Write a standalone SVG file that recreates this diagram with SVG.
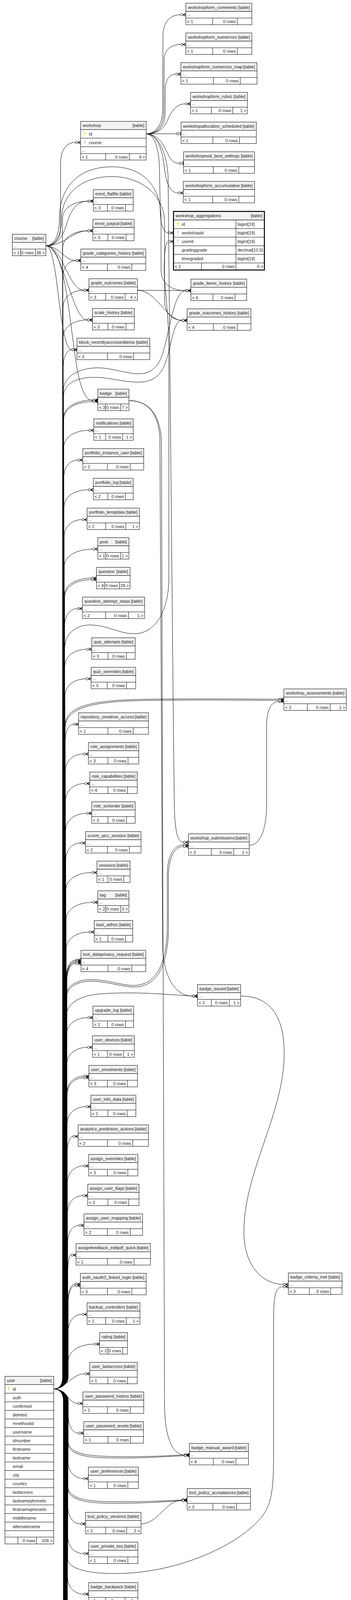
<svg xmlns="http://www.w3.org/2000/svg" width="898" height="6562" viewBox="0 0 898 6562">
<style>
.h{fill:#f2f2f2;stroke:#000;stroke-width:1}
.b{fill:#fff;stroke:#000;stroke-width:1}
.d{fill:none;stroke:#000;stroke-width:1}
text{font-family:"Liberation Sans",Arial,Helvetica,sans-serif;font-size:11px;fill:#222}
.e{text-anchor:end}
.c path{fill:none;stroke:#000;stroke-width:1;marker-end:url(#co)}
.c path.t1{marker-end:url(#to)}
.kp{fill:#e4e000}
.kf{fill:#c4c4c4}
</style>
<defs>
<marker id="co" markerUnits="userSpaceOnUse" markerWidth="16" markerHeight="12" viewBox="-1 -6 16 12" refX="0" refY="0" orient="auto">
<circle cx="3.3" cy="0" r="3" fill="#fff" stroke="#000" stroke-width="1"/>
<path d="M6.3 0L13.3 -4M6.3 0L13.3 0M6.3 0L13.3 4" fill="none" stroke="#000" stroke-width="1.3"/>
</marker>
<marker id="to" markerUnits="userSpaceOnUse" markerWidth="14" markerHeight="12" viewBox="-1 -6 14 12" refX="0" refY="0" orient="auto">
<circle cx="3.3" cy="0" r="3" fill="#fff" stroke="#000" stroke-width="1"/>
<path d="M9.8 -4.5V4.5" fill="none" stroke="#000" stroke-width="1.6"/>
</marker>
<symbol id="key" viewBox="0 0 4 10" width="4" height="10"><ellipse cx="2" cy="2.2" rx="1.9" ry="2.2"/><rect x="1.35" y="3.6" width="1.3" height="6.4"/></symbol>
</defs>
<rect width="898" height="6562" fill="#fff"/>

<g id="connectors" class="c">
<!-- course -->
<path d="M117.4 629.1C138 629.1 155 612 155 585L155 420C155 385 168 364.7 192.9 364.7"/>
<path d="M117.4 629.1C145 629.1 160 608 170 575C180 540 195 514.9 225.5 514.9"/>
<path d="M117.4 629.1C165 629.1 185 590.8 224.4 590.8"/>
<path d="M117.4 629.1C150 629.1 165 666.9 193.5 666.9"/>
<path d="M117.4 629.1C160 629.1 175 743 214.1 743"/>
<path d="M117.4 629.1C160 629.1 185 819.1 223.2 819.1"/>
<path d="M117.4 629.1C150 629.1 150 895.2 183.7 895.2"/>
<path d="M117.4 629.1C165 629.1 175 800 195 930C205 995 220 1025.6 237 1025.6"/>
<path d="M117.4 629.1C140 629.1 152 600 152 560C152 475 205 427 286 427C370 427 412 480 412 560L412 690C412 728 440 744 475.2 744"/>
<path d="M117.4 629.1C140 629.1 157 605 157 565C157 492 212 452 286 452C362 452 421 500 421 570L421 770C421 805 445 820.1 465.5 820.1"/>
<!-- grade_outcomes -->
<path d="M351.7 743L475.2 744"/>
<path d="M351.7 743C400 743 425 820.1 465.5 820.1"/>
<!-- workshop -->
<path d="M374 342.7C396 342.7 415 322 416 285L417 90C418 55 436 37.7 462.1 37.7"/>
<path d="M374 342.7C398 342.7 418 325 419 290L420 150C421 126 440 113.8 462.1 113.8"/>
<path d="M374 342.7C400 342.7 421 328 422 295L423 225C424 203 435 189.9 449.5 189.9"/>
<path d="M374 342.7C402 342.7 420 330 430 305C442 278 455 265.9 474.1 265.9"/>
<path class="t1" d="M374 342.7L452 342.3"/>
<path class="t1" d="M374 342.7C410 342.7 425 385 432 400C440 413 447 418.1 458.3 418.1"/>
<path d="M374 342.7C402 342.7 416 385 420 425C425 475 438 493.8 455.7 493.8"/>
<path d="M374 342.7C396 342.7 407 385 408 430L410 540C411 577 419 596.2 430.6 596.2"/>
<path d="M374 342.7C402 342.7 426 385 430 450L444 1900L446 2060C447 2130 455 2156 468.9 2156"/>
<!-- badge -->
<path d="M329.9 1025.6C372 1025.6 404 1050 409 1120L416 2420C418 2508 452 2549.9 491.9 2549.9"/>
<path d="M329.9 1025.6C376 1025.6 410 1055 413 1130L421 3600C422 3690 446 3724.6 471.2 3724.6"/>
<!-- other right-side -->
<path d="M637.5 2164C665 2164 682 2125 682 2060L682 1860C682 1815 695 1796 712.9 1796"/>
<path d="M615.7 2549.9C690 2549.9 728 2600 727 2700C726 2850 625 3000 624 3150C623 3250 680 3288 724.4 3288"/>
<path d="M360.8 3901.1C405 3901.1 425 3840 465.5 3840"/>
<path d="M344.8 5273.1C385 5273.1 430 5206.2 472.4 5206.2"/>
<path d="M367.1 5376.8C410 5376.8 430 5350.2 474.1 5350.2"/>
<path d="M358 5481C410 5481 430 5453.9 480.4 5453.9"/>
<path d="M336.8 6116.9C400 6116.9 425 6089.8 468.9 6089.8"/>
<!-- user to right-side tables -->
<path d="M137.5 3555.7C152 3555.7 165.5 3545 165.5 3525L165.5 1660C165.5 1622 195 1598 235 1600C280 1602 310 1625 350 1622C400 1618 432 1560 432 1480L432 900C432 800 420 730 420 690C420 645 424 618.2 430.6 618.2"/>
<path d="M137.5 3555.7C152 3555.7 162.2 3545 162.2 3525L162.2 1000C162.2 958 215 936 270 943C330 951 378 978 408 925C432 880 440 744 475.2 744"/>
<path d="M137.5 3555.7C152 3555.7 162.6 3545 162.6 3525L162.6 1015C162.6 975 212 960 270 968C330 976 388 995 416 945C438 905 440 820.1 465.5 820.1"/>
<path d="M137.5 3555.7C152 3555.7 166.3 3545 166.3 3525L166.3 1860C166.3 1808 230 1792 380 1790C550 1788 650 1790 712.9 1790"/>
<path d="M137.5 3555.7C152 3555.7 166.8 3545 166.8 3525L166.8 1864C166.8 1812 232 1795 380 1793C550 1791 650 1793 712.9 1793"/>
<path d="M137.5 3555.7C152 3555.7 170 3545 170 3525L170 2548C170 2522 200 2506 240 2508C290 2511 320 2526 352 2522C400 2516 425 2468 428 2380L428 2240C428 2190 445 2163 468.9 2163"/>
<path d="M137.5 3555.7C152 3555.7 170.5 3545 170.5 3525L170.5 2552C170.5 2526 201 2510 240 2512C290 2515 322 2530 354 2526C402 2520 428 2472 431 2384L431 2244C431 2194 447 2167 468.9 2167"/>
<path d="M137.5 3555.7C152 3555.7 170.2 3545 170.2 3525L170.2 2600C170.2 2568 205 2548 260 2544C350 2538 430 2546 491.9 2549.9"/>
<path d="M137.5 3555.7C152 3555.7 174.4 3566 174.4 3586L174.4 3690C174.4 3714 205 3726 265 3728C360 3731 420 3727 471.2 3724.6"/>
<path d="M137.5 3555.7C152 3555.7 173.9 3566 173.9 3586L173.9 3694C173.9 3718 205 3730 265 3732C360 3734 420 3729 471.2 3726.6"/>
<path d="M137.5 3555.7C152 3555.7 173.8 3566 173.8 3586L173.8 3806C173.8 3830 205 3842 265 3844C360 3846 420 3842 465.5 3840"/>
<path d="M137.5 3555.7C152 3555.7 173.3 3566 173.3 3586L173.3 3810C173.3 3834 205 3846 265 3848C360 3850 420 3844 465.5 3842"/>
<path d="M137.5 3555.7C152 3555.7 173.2 3566 173.2 3586L173.2 3990C173.2 4016 225 4030 310 4028C450 4025 610 3960 672 3880C697 3848 700 3800 700 3720L700 3380C700 3315 705 3294 724.4 3294"/>
<path d="M137.5 3555.7C152 3555.7 167.9 3566 167.9 3586L167.9 5160C167.9 5195 205 5214 265 5218C350 5223 420 5210 472.4 5206.2"/>
<path d="M137.5 3555.7C152 3555.7 167.6 3566 167.6 3586L167.6 5165C167.6 5205 210 5228 280 5230C360 5232 420 5212 472.4 5207"/>
<path d="M137.5 3555.7C152 3555.7 167.3 3566 167.3 3586L167.3 5170C167.3 5215 215 5238 300 5236C380 5234 420 5214 472.4 5208"/>
<path d="M137.5 3555.7C152 3555.7 167.1 3566 167.1 3586L167.1 5290C167.1 5320 215 5333 300 5334C400 5335 430 5350.2 474.1 5350.2"/>
<path d="M137.5 3555.7C152 3555.7 166.6 3566 166.6 3586L166.6 5395C166.6 5425 215 5436 300 5437C400 5438 435 5453.9 480.4 5453.9"/>
<path d="M137.5 3555.7C152 3555.7 163.9 3566 163.9 3586L163.9 6030C163.9 6060 215 6072 300 6073C400 6074 430 6089.8 468.9 6089.8"/>
<!-- user to middle tables above -->
<path d="M137.5 3555.7C152 3555.7 160 3545 160 3525L160 559.9C160 529.9 192.8 514.9 225.5 514.9"/>
<path d="M137.5 3555.7C152 3555.7 160.4 3545 160.4 3525L160.4 635.8C160.4 605.8 192.4 590.8 224.4 590.8"/>
<path d="M137.5 3555.7C152 3555.7 160.8 3545 160.8 3525L160.8 711.9C160.8 681.9 177.1 666.9 193.5 666.9"/>
<path d="M137.5 3555.7C152 3555.7 161.1 3545 161.1 3525L161.1 788C161.1 758 187.6 743 214.1 743"/>
<path d="M137.5 3555.7C152 3555.7 161.5 3545 161.5 3525L161.5 864.1C161.5 834.1 192.4 819.1 223.2 819.1"/>
<path d="M137.5 3555.7C152 3555.7 161.9 3545 161.9 3525L161.9 940.2C161.9 910.2 172.8 895.2 183.7 895.2"/>
<path d="M137.5 3555.7C152 3555.7 162.5 3545 162.5 3525L162.5 1070.6C162.5 1040.6 200 1024 237 1024"/>
<path d="M137.5 3555.7C152 3555.7 163 3545 163 3525L163 1073C163 1043 200 1028 237 1028"/>
<path d="M137.5 3555.7C152 3555.7 162.9 3545 162.9 3525L162.9 1146.7C162.9 1116.7 194.8 1101.7 226.7 1101.7"/>
<path d="M137.5 3555.7C152 3555.7 163.3 3545 163.3 3525L163.3 1222.8C163.3 1192.8 181 1177.8 198.6 1177.8"/>
<path d="M137.5 3555.7C152 3555.7 163.7 3545 163.7 3525L163.7 1298.9C163.7 1268.9 194.6 1253.9 225.5 1253.9"/>
<path d="M137.5 3555.7C152 3555.7 164.1 3545 164.1 3525L164.1 1375.2C164.1 1345.2 186.8 1330.2 209.5 1330.2"/>
<path d="M137.5 3555.7C152 3555.7 164.4 3545 164.4 3525L164.4 1450.8C164.4 1420.8 200.7 1405.8 237 1405.8"/>
<path d="M137.5 3555.7C152 3555.7 164.8 3545 164.8 3525L164.8 1525C164.8 1495 199 1480 233.5 1480"/>
<path d="M137.5 3555.7C152 3555.7 165.3 3545 165.3 3525L165.3 1529C165.3 1499 199 1484 233.5 1484"/>
<path d="M137.5 3555.7C152 3555.7 165.2 3545 165.2 3525L165.2 1603C165.2 1573 181.4 1558 197.5 1558"/>
<path d="M137.5 3555.7C152 3555.7 165.7 3545 165.7 3525L165.7 1707.2C165.7 1677.2 193.6 1662.2 221.5 1662.2"/>
<path d="M137.5 3555.7C152 3555.7 166.1 3545 166.1 3525L166.1 1782.8C166.1 1752.8 193 1737.8 219.8 1737.8"/>
<path d="M137.5 3555.7C152 3555.7 166.7 3545 166.7 3525L166.7 1899.2C166.7 1869.2 177.2 1854.2 187.7 1854.2"/>
<path d="M137.5 3555.7C152 3555.7 167.1 3545 167.1 3525L167.1 1975.3C167.1 1945.3 190 1930.3 212.9 1930.3"/>
<path d="M137.5 3555.7C152 3555.7 167.4 3545 167.4 3525L167.4 2050.9C167.4 2020.9 191.9 2005.9 216.4 2005.9"/>
<path d="M137.5 3555.7C152 3555.7 167.8 3545 167.8 3525L167.8 2127.1C167.8 2097.1 194.7 2082.1 221.5 2082.1"/>
<path d="M137.5 3555.7C152 3555.7 168.2 3545 168.2 3525L168.2 2203.2C168.2 2173.2 186.9 2158.2 205.5 2158.2"/>
<path d="M137.5 3555.7C152 3555.7 168.6 3545 168.6 3525L168.6 2278.8C168.6 2248.8 201.7 2233.8 234.7 2233.8"/>
<path d="M137.5 3555.7C152 3555.7 169 3545 169 3525L169 2354.9C169 2324.9 203 2309.9 237 2309.9"/>
<path d="M137.5 3555.7C152 3555.7 169.3 3545 169.3 3525L169.3 2431C169.3 2401 198.6 2386 227.8 2386"/>
<path d="M137.5 3555.7C152 3555.7 169.7 3545 169.7 3525L169.7 2502.6C169.7 2472.6 182 2457.6 194 2457.6"/>
<path d="M137.5 3555.7C152 3555.7 170.2 3545 170.2 3525L170.2 2505.6C170.2 2475.6 182 2460.6 194 2460.6"/>
<path d="M137.5 3555.7C152 3555.7 170.7 3545 170.7 3525L170.7 2508.6C170.7 2478.6 182 2463.6 194 2463.6"/>
<path d="M137.5 3555.7C152 3555.7 171.2 3545 171.2 3525L171.2 2511.6C171.2 2481.6 182 2466.6 194 2466.6"/>
<path d="M137.5 3555.7C152 3555.7 170.4 3545 170.4 3525L170.4 2650.1C170.4 2620.1 197.4 2605.1 224.4 2605.1"/>
<path d="M137.5 3555.7C152 3555.7 170.8 3545 170.8 3525L170.8 2726.2C170.8 2696.2 197 2681.2 223.2 2681.2"/>
<path d="M137.5 3555.7C152 3555.7 171.2 3545 171.2 3525L171.2 2800C171.2 2770 192.7 2755 214.1 2755"/>
<path d="M137.5 3555.7C152 3555.7 171.7 3545 171.7 3525L171.7 2804C171.7 2774 192.7 2759 214.1 2759"/>
<path d="M137.5 3555.7C152 3555.7 171.6 3545 171.6 3525L171.6 2878.1C171.6 2848.1 195.4 2833.1 219.2 2833.1"/>
<path d="M137.5 3555.7C152 3555.7 172 3545 172 3525L172 2954.2C172 2924.2 179.3 2909.2 186.6 2909.2"/>
<path d="M137.5 3555.7C152 3555.7 172.3 3545 172.3 3525L172.3 3029.8C172.3 2999.8 192.9 2984.8 213.5 2984.8"/>
<path d="M137.5 3555.7C152 3555.7 172.7 3545 172.7 3525L172.7 3105.9C172.7 3075.9 192 3060.9 211.2 3060.9"/>
<path d="M137.5 3555.7C152 3555.7 173.1 3545 173.1 3525L173.1 3182C173.1 3152 187.3 3137 201.5 3137"/>
<path d="M137.5 3555.7C152 3555.7 173.5 3545 173.5 3525L173.5 3258.1C173.5 3228.1 177.5 3213.1 181.4 3213.1"/>
<path d="M137.5 3555.7C152 3555.7 173.9 3545 173.9 3525L173.9 3332.2C173.9 3302.2 183.1 3287.2 192.3 3287.2"/>
<path d="M137.5 3555.7C152 3555.7 174.4 3545 174.4 3525L174.4 3336.2C174.4 3306.2 183.1 3291.2 192.3 3291.2"/>
<path d="M137.5 3555.7C152 3555.7 174.3 3545 174.3 3525L174.3 3409.8C174.3 3379.8 191.9 3364.8 209.5 3364.8"/>
<path d="M137.5 3555.7C152 3555.7 174.6 3545 174.6 3525L174.6 3485.9C174.6 3455.9 208 3440.9 241.6 3440.9"/>
<path d="M137.5 3555.7C165 3555.7 185 3517 216.4 3517"/>
<!-- user to middle tables below -->
<path d="M137.5 3555.7C165 3555.7 178 3592.8 198.6 3592.8"/>
<path d="M137.5 3555.7C152 3555.7 174.7 3566 174.7 3586L174.7 3623.9C174.7 3653.9 187.8 3668.9 200.9 3668.9"/>
<path d="M137.5 3555.7C152 3555.7 174.1 3566 174.1 3586L174.1 3740.2C174.1 3770.2 193.5 3785.2 212.9 3785.2"/>
<path d="M137.5 3555.7C152 3555.7 173.6 3566 173.6 3586L173.6 3856.1C173.6 3886.1 189.6 3901.1 205.5 3901.1"/>
<path d="M137.5 3555.7C152 3555.7 173.3 3566 173.3 3586L173.3 3932.2C173.3 3962.2 193.4 3977.2 213.5 3977.2"/>
<path d="M137.5 3555.7C152 3555.7 172.8 3566 172.8 3586L172.8 4035.9C172.8 4065.9 193.2 4080.9 213.5 4080.9"/>
<path d="M137.5 3555.7C152 3555.7 172.5 3566 172.5 3586L172.5 4112C172.5 4142 193.3 4157 214.1 4157"/>
<path d="M137.5 3555.7C152 3555.7 172.1 3566 172.1 3586L172.1 4188.1C172.1 4218.1 188.5 4233.1 204.9 4233.1"/>
<path d="M137.5 3555.7C152 3555.7 171.8 3566 171.8 3586L171.8 4264.2C171.8 4294.2 197.2 4309.2 222.7 4309.2"/>
<path d="M137.5 3555.7C152 3555.7 171.5 3566 171.5 3586L171.5 4339.9C171.5 4369.9 193.1 4384.9 214.7 4384.9"/>
<path d="M137.5 3555.7C152 3555.7 171.1 3566 171.1 3586L171.1 4416C171.1 4446 200.9 4461 230.7 4461"/>
<path d="M137.5 3555.7C152 3555.7 170.8 3566 170.8 3586L170.8 4492.1C170.8 4522.1 200.7 4537.1 230.7 4537.1"/>
<path d="M137.5 3555.7C152 3555.7 170.4 3566 170.4 3586L170.4 4568.2C170.4 4598.2 195.1 4613.2 219.8 4613.2"/>
<path d="M137.5 3555.7C152 3555.7 170.1 3566 170.1 3586L170.1 4643.9C170.1 4673.9 195.2 4688.9 220.4 4688.9"/>
<path d="M137.5 3555.7C152 3555.7 169.8 3566 169.8 3586L169.8 4720C169.8 4750 183.3 4765 196.9 4765"/>
<path d="M137.5 3555.7C152 3555.7 169.4 3566 169.4 3586L169.4 4794.1C169.4 4824.1 192.9 4839.1 216.4 4839.1"/>
<path d="M137.5 3555.7C152 3555.7 168.9 3566 168.9 3586L168.9 4798.1C168.9 4828.1 192.9 4843.1 216.4 4843.1"/>
<path d="M137.5 3555.7C152 3555.7 169.1 3566 169.1 3586L169.1 4872.2C169.1 4902.2 201.9 4917.2 234.7 4917.2"/>
<path d="M137.5 3555.7C152 3555.7 168.7 3566 168.7 3586L168.7 4948.3C168.7 4978.3 202.9 4993.3 237 4993.3"/>
<path d="M137.5 3555.7C152 3555.7 168.4 3566 168.4 3586L168.4 5023.9C168.4 5053.9 194.4 5068.9 220.4 5068.9"/>
<path d="M137.5 3555.7C152 3555.7 168 3566 168 3586L168 5100.1C168 5130.1 183.3 5145.1 198.6 5145.1"/>
<path d="M137.5 3555.7C152 3555.7 167.5 3566 167.5 3586L167.5 5226.1C167.5 5256.1 194.5 5271.1 221.5 5271.1"/>
<path d="M137.5 3555.7C152 3555.7 167 3566 167 3586L167 5230.1C167 5260.1 194.5 5275.1 221.5 5275.1"/>
<path d="M137.5 3555.7C152 3555.7 167 3566 167 3586L167 5331.8C167 5361.8 183.1 5376.8 199.2 5376.8"/>
<path d="M137.5 3555.7C152 3555.7 166.5 3566 166.5 3586L166.5 5434C166.5 5464 188 5479 209.5 5479"/>
<path d="M137.5 3555.7C152 3555.7 166 3566 166 3586L166 5438C166 5468 188 5483 209.5 5483"/>
<path d="M137.5 3555.7C152 3555.7 166.2 3566 166.2 3586L166.2 5512.1C166.2 5542.1 189.6 5557.1 212.9 5557.1"/>
<path d="M137.5 3555.7C152 3555.7 165.9 3566 165.9 3586L165.9 5588.2C165.9 5618.2 189.7 5633.2 213.5 5633.2"/>
<path d="M137.5 3555.7C152 3555.7 165.5 3566 165.5 3586L165.5 5664.3C165.5 5694.3 203.6 5709.3 241.6 5709.3"/>
<path d="M137.5 3555.7C152 3555.7 165.2 3566 165.2 3586L165.2 5738C165.2 5768 176.7 5783 188.3 5783"/>
<path d="M137.5 3555.7C152 3555.7 164.7 3566 164.7 3586L164.7 5742C164.7 5772 176.7 5787 188.3 5787"/>
<path d="M137.5 3555.7C152 3555.7 164.8 3566 164.8 3586L164.8 5813.9C164.8 5843.9 187 5858.9 209.5 5858.9"/>
<path d="M137.5 3555.7C152 3555.7 164.3 3566 164.3 3586L164.3 5817.9C164.3 5847.9 187 5862.9 209.5 5862.9"/>
<path d="M137.5 3555.7C152 3555.7 164.5 3566 164.5 3586L164.5 5892.2C164.5 5922.2 168.7 5937.2 172.8 5937.2"/>
<path d="M137.5 3555.7C152 3555.7 164.2 3566 164.2 3586L164.2 5968C164.2 5998 191.7 6013 219.2 6013"/>
<path d="M137.5 3555.7C152 3555.7 163.7 3566 163.7 3586L163.7 6071.9C163.7 6101.9 197.2 6116.9 230.7 6116.9"/>
<path d="M137.5 3555.7C152 3555.7 163.4 3566 163.4 3586L163.4 6146.2C163.4 6176.2 178.7 6191.2 194 6191.2"/>
<path d="M137.5 3555.7C152 3555.7 162.9 3566 162.9 3586L162.9 6150.2C162.9 6180.2 178.7 6195.2 194 6195.2"/>
<path d="M137.5 3555.7C152 3555.7 163 3566 163 3586L163 6224C163 6254 172.2 6269 181.4 6269"/>
<path d="M137.5 3555.7C152 3555.7 162.7 3566 162.7 3586L162.7 6299.9C162.7 6329.9 197.5 6344.9 232.4 6344.9"/>
<path d="M137.5 3555.7C152 3555.7 162.4 3566 162.4 3586L162.4 6376.2C162.4 6406.2 171.3 6421.2 180.3 6421.2"/>
<path d="M137.5 3555.7C152 3555.7 162 3566 162 3586L162 6452C162 6482 196.3 6497 230.7 6497"/>
</g>

<g id="t-course" transform="translate(31.5 599.6)"><rect class="h" width="85.9" height="21"/><rect class="b" y="21" width="85.9" height="34"/><path class="d" d="M0 38H85.9M21.2 38V55M59 38V55"/><text x="5" y="14.5">course</text><text class="e" x="80.9" y="14.5">[table]</text><text x="3" y="33">...</text><text x="3" y="51">&lt; 1</text><text class="e" x="55" y="51">0 rows</text><text class="e" x="82.9" y="51">38 &gt;</text></g>

<g id="t-user" transform="translate(12.6 3523.4)"><rect class="h" width="124.9" height="21.2"/><rect class="b" y="21.2" width="124.9" height="407.9"/><path class="d" d="M0 43.2H124.9M0 65.2H124.9M0 87.2H124.9M0 109.2H124.9M0 131.2H124.9M0 153.2H124.9M0 175.2H124.9M0 197.2H124.9M0 219.2H124.9M0 241.2H124.9M0 263.2H124.9M0 285.2H124.9M0 307.2H124.9M0 329.2H124.9M0 351.2H124.9M0 373.2H124.9M0 395.2H124.9M0 411.6H124.9M33.2 411.6V429.1M80.8 411.6V429.1"/><text x="5" y="14.5">user</text><text class="e" x="119.9" y="14.5">[table]</text><use href="#key" class="kp" x="8" y="27.2"/><text x="20" y="36.2">id</text><text x="20" y="58.2">auth</text><text x="20" y="80.2">confirmed</text><text x="20" y="102.2">deleted</text><text x="20" y="124.2">mnethostid</text><text x="20" y="146.2">username</text><text x="20" y="168.2">idnumber</text><text x="20" y="190.2">firstname</text><text x="20" y="212.2">lastname</text><text x="20" y="234.2">email</text><text x="20" y="256.2">city</text><text x="20" y="278.2">country</text><text x="20" y="300.2">lastaccess</text><text x="20" y="322.2">lastnamephonetic</text><text x="20" y="344.2">firstnamephonetic</text><text x="20" y="366.2">middlename</text><text x="20" y="388.2">alternatename</text><text x="3" y="407">...</text><text class="e" x="77.8" y="424.6">0 rows</text><text class="e" x="121.9" y="424.6">106 &gt;</text></g>

<g id="t-workshop" transform="translate(206.2 310.7)"><rect class="h" width="167.8" height="21"/><rect class="b" y="21" width="167.8" height="78"/><path class="d" d="M0 43H167.8M0 65H167.8M0 82.5H167.8M64.1 82.5V99M124.8 82.5V99"/><text x="5" y="14.5">workshop</text><text class="e" x="162.8" y="14.5">[table]</text><use href="#key" class="kp" x="9" y="27"/><text x="21" y="36">id</text><use href="#key" class="kf" x="9" y="49"/><text x="21" y="58">course</text><text x="3" y="78">...</text><text x="3" y="95">&lt; 1</text><text class="e" x="120.8" y="95">0 rows</text><text class="e" x="164.8" y="95">9 &gt;</text></g>

<g id="t-workshop_aggregations" transform="translate(443.9 541.2)"><rect class="h" width="232.5" height="22"/><rect class="b" y="22" width="232.5" height="128"/><path class="d" d="M0 44H232.5M0 66H232.5M0 88H232.5M0 110H232.5M0 132H232.5M159.8 22V150M71.6 132V150"/><rect width="232.5" height="150" fill="none" stroke="#000" stroke-width="2.5"/><text x="5" y="15">workshop_aggregations</text><text class="e" x="227.5" y="15">[table]</text><use href="#key" class="kp" x="9" y="28"/><text x="21" y="37">id</text><use href="#key" class="kf" x="9" y="50"/><text x="21" y="59">workshopid</text><use href="#key" class="kf" x="9" y="72"/><text x="21" y="81">userid</text><text x="21" y="103">gradinggrade</text><text x="21" y="125">timegraded</text><text x="163.5" y="37">bigint[19]</text><text x="163.5" y="59">bigint[19]</text><text x="163.5" y="81">bigint[19]</text><text x="163.5" y="103">decimal[10,5]</text><text x="163.5" y="125">bigint[19]</text><text x="3" y="145">&lt; 2</text><text class="e" x="156.8" y="145">0 rows</text><text class="e" x="229.5" y="145">0 &gt;</text></g>

<g id="t-enrol_flatfile" transform="translate(238.8 485.4)"><rect class="h" width="102" height="21"/><rect class="b" y="21" width="102" height="34"/><path class="d" d="M0 38H102M36.1 38V55M82.5 38V55"/><text x="5" y="14.5">enrol_flatfile</text><text class="e" x="97" y="14.5">[table]</text><text x="3" y="33">...</text><text x="3" y="51">&lt; 3</text><text class="e" x="78.5" y="51">0 rows</text></g>
<g id="t-enrol_paypal" transform="translate(237.7 561.3)"><rect class="h" width="105.4" height="21"/><rect class="b" y="21" width="105.4" height="34"/><path class="d" d="M0 38H105.4M38.3 38V55M84.7 38V55"/><text x="5" y="14.5">enrol_paypal</text><text class="e" x="100.4" y="14.5">[table]</text><text x="3" y="33">...</text><text x="3" y="51">&lt; 3</text><text class="e" x="80.7" y="51">0 rows</text></g>
<g id="t-grade_categories_history" transform="translate(206.8 637.4)"><rect class="h" width="166.1" height="21"/><rect class="b" y="21" width="166.1" height="34"/><path class="d" d="M0 38H166.1M68.1 38V55M130.5 38V55"/><text x="5" y="14.5">grade_categories_history</text><text class="e" x="161.1" y="14.5">[table]</text><text x="3" y="33">...</text><text x="3" y="51">&lt; 4</text><text class="e" x="126.5" y="51">0 rows</text></g>
<g id="t-grade_outcomes" transform="translate(227.4 713.5)"><rect class="h" width="124.3" height="21"/><rect class="b" y="21" width="124.3" height="34"/><path class="d" d="M0 38H124.3M42.9 38V55M92.8 38V55"/><text x="5" y="14.5">grade_outcomes</text><text class="e" x="119.3" y="14.5">[table]</text><text x="3" y="33">...</text><text x="3" y="51">&lt; 3</text><text class="e" x="88.8" y="51">0 rows</text><text class="e" x="121.3" y="51">4 &gt;</text></g>
<g id="t-scale_history" transform="translate(236.5 789.6)"><rect class="h" width="107.1" height="21"/><rect class="b" y="21" width="107.1" height="34"/><path class="d" d="M0 38H107.1M39.5 38V55M85.9 38V55"/><text x="5" y="14.5">scale_history</text><text class="e" x="102.1" y="14.5">[table]</text><text x="3" y="33">...</text><text x="3" y="51">&lt; 3</text><text class="e" x="81.9" y="51">0 rows</text></g>
<g id="t-block_recentlyaccesseditems" transform="translate(197 865.7)"><rect class="h" width="186.2" height="21"/><rect class="b" y="21" width="186.2" height="34"/><path class="d" d="M0 38H186.2M77.9 38V55M144.9 38V55"/><text x="5" y="14.5">block_recentlyaccesseditems</text><text class="e" x="181.2" y="14.5">[table]</text><text x="3" y="33">...</text><text x="3" y="51">&lt; 3</text><text class="e" x="140.9" y="51">0 rows</text></g>
<g id="t-badge" transform="translate(250.3 996.1)"><rect class="h" width="79.6" height="21"/><rect class="b" y="21" width="79.6" height="34"/><path class="d" d="M0 38H79.6M20 38V55M58.4 38V55"/><text x="5" y="14.5">badge</text><text class="e" x="74.6" y="14.5">[table]</text><text x="3" y="33">...</text><text x="3" y="51">&lt; 3</text><text class="e" x="54.4" y="51">0 rows</text><text class="e" x="76.6" y="51">7 &gt;</text></g>
<g id="t-notifications" transform="translate(240 1072.2)"><rect class="h" width="100.8" height="21"/><rect class="b" y="21" width="100.8" height="34"/><path class="d" d="M0 38H100.8M30.3 38V55M73.9 38V55"/><text x="5" y="14.5">notifications</text><text class="e" x="95.8" y="14.5">[table]</text><text x="3" y="33">...</text><text x="3" y="51">&lt; 1</text><text class="e" x="69.9" y="51">0 rows</text><text class="e" x="97.8" y="51">1 &gt;</text></g>
<g id="t-portfolio_instance_user" transform="translate(211.9 1148.3)"><rect class="h" width="155.8" height="21"/><rect class="b" y="21" width="155.8" height="34"/><path class="d" d="M0 38H155.8M63 38V55M121.4 38V55"/><text x="5" y="14.5">portfolio_instance_user</text><text class="e" x="150.8" y="14.5">[table]</text><text x="3" y="33">...</text><text x="3" y="51">&lt; 2</text><text class="e" x="117.4" y="51">0 rows</text></g>
<g id="t-portfolio_log" transform="translate(238.8 1224.4)"><rect class="h" width="102" height="21"/><rect class="b" y="21" width="102" height="34"/><path class="d" d="M0 38H102M37.2 38V55M82.5 38V55"/><text x="5" y="14.5">portfolio_log</text><text class="e" x="97" y="14.5">[table]</text><text x="3" y="33">...</text><text x="3" y="51">&lt; 2</text><text class="e" x="78.5" y="51">0 rows</text></g>
<g id="t-portfolio_tempdata" transform="translate(222.8 1300.7)"><rect class="h" width="134" height="21"/><rect class="b" y="21" width="134" height="34"/><path class="d" d="M0 38H134M47.5 38V55M99.1 38V55"/><text x="5" y="14.5">portfolio_tempdata</text><text class="e" x="129" y="14.5">[table]</text><text x="3" y="33">...</text><text x="3" y="51">&lt; 2</text><text class="e" x="95.1" y="51">0 rows</text><text class="e" x="131" y="51">1 &gt;</text></g>
<g id="t-post" transform="translate(250.3 1376.3)"><rect class="h" width="79.6" height="21"/><rect class="b" y="21" width="79.6" height="34"/><path class="d" d="M0 38H79.6M20 38V55M58.4 38V55"/><text x="5" y="14.5">post</text><text class="e" x="74.6" y="14.5">[table]</text><text x="3" y="33">...</text><text x="3" y="51">&lt; 1</text><text class="e" x="54.4" y="51">0 rows</text><text class="e" x="76.6" y="51">1 &gt;</text></g>
<g id="t-question" transform="translate(246.8 1452.4)"><rect class="h" width="86" height="21"/><rect class="b" y="21" width="86" height="34"/><path class="d" d="M0 38H86M20.7 38V55M59 38V55"/><text x="5" y="14.5">question</text><text class="e" x="81" y="14.5">[table]</text><text x="3" y="33">...</text><text x="3" y="51">&lt; 4</text><text class="e" x="55" y="51">0 rows</text><text class="e" x="83" y="51">28 &gt;</text></g>
<g id="t-question_attempt_steps" transform="translate(210.8 1528.5)"><rect class="h" width="159.2" height="21"/><rect class="b" y="21" width="159.2" height="34"/><path class="d" d="M0 38H159.2M59.5 38V55M117.9 38V55"/><text x="5" y="14.5">question_attempt_steps</text><text class="e" x="154.2" y="14.5">[table]</text><text x="3" y="33">...</text><text x="3" y="51">&lt; 2</text><text class="e" x="113.9" y="51">0 rows</text><text class="e" x="156.2" y="51">1 &gt;</text></g>
<g id="t-quiz_attempts" transform="translate(234.8 1632.7)"><rect class="h" width="111.1" height="21"/><rect class="b" y="21" width="111.1" height="34"/><path class="d" d="M0 38H111.1M41.2 38V55M88.8 38V55"/><text x="5" y="14.5">quiz_attempts</text><text class="e" x="106.1" y="14.5">[table]</text><text x="3" y="33">...</text><text x="3" y="51">&lt; 3</text><text class="e" x="84.8" y="51">0 rows</text></g>
<g id="t-quiz_overrides" transform="translate(233.1 1708.3)"><rect class="h" width="114" height="21"/><rect class="b" y="21" width="114" height="34"/><path class="d" d="M0 38H114M41.2 38V55M90.5 38V55"/><text x="5" y="14.5">quiz_overrides</text><text class="e" x="109" y="14.5">[table]</text><text x="3" y="33">...</text><text x="3" y="51">&lt; 3</text><text class="e" x="86.5" y="51">0 rows</text></g>
<g id="t-repository_onedrive_access" transform="translate(201 1824.7)"><rect class="h" width="178.7" height="21"/><rect class="b" y="21" width="178.7" height="34"/><path class="d" d="M0 38H178.7M75 38V55M139.8 38V55"/><text x="5" y="14.5">repository_onedrive_access</text><text class="e" x="173.7" y="14.5">[table]</text><text x="3" y="33">...</text><text x="3" y="51">&lt; 1</text><text class="e" x="135.8" y="51">0 rows</text></g>
<g id="t-role_assignments" transform="translate(226.2 1900.8)"><rect class="h" width="128.9" height="21"/><rect class="b" y="21" width="128.9" height="34"/><path class="d" d="M0 38H128.9M49.8 38V55M101.4 38V55"/><text x="5" y="14.5">role_assignments</text><text class="e" x="123.9" y="14.5">[table]</text><text x="3" y="33">...</text><text x="3" y="51">&lt; 3</text><text class="e" x="97.4" y="51">0 rows</text></g>
<g id="t-role_capabilities" transform="translate(229.7 1976.4)"><rect class="h" width="121.4" height="21"/><rect class="b" y="21" width="121.4" height="34"/><path class="d" d="M0 38H121.4M46.3 38V55M96.2 38V55"/><text x="5" y="14.5">role_capabilities</text><text class="e" x="116.4" y="14.5">[table]</text><text x="3" y="33">...</text><text x="3" y="51">&lt; 4</text><text class="e" x="92.2" y="51">0 rows</text></g>
<g id="t-role_sortorder" transform="translate(234.8 2052.6)"><rect class="h" width="111.1" height="21"/><rect class="b" y="21" width="111.1" height="34"/><path class="d" d="M0 38H111.1M41.2 38V55M88.8 38V55"/><text x="5" y="14.5">role_sortorder</text><text class="e" x="106.1" y="14.5">[table]</text><text x="3" y="33">...</text><text x="3" y="51">&lt; 3</text><text class="e" x="84.8" y="51">0 rows</text></g>
<g id="t-scorm_aicc_session" transform="translate(218.8 2128.7)"><rect class="h" width="142" height="21"/><rect class="b" y="21" width="142" height="34"/><path class="d" d="M0 38H142M56.1 38V55M112.2 38V55"/><text x="5" y="14.5">scorm_aicc_session</text><text class="e" x="137" y="14.5">[table]</text><text x="3" y="33">...</text><text x="3" y="51">&lt; 2</text><text class="e" x="108.2" y="51">0 rows</text></g>
<g id="t-sessions" transform="translate(248 2204.3)"><rect class="h" width="84.8" height="21"/><rect class="b" y="21" width="84.8" height="34"/><path class="d" d="M0 38H84.8M28 38V55M68.7 38V55"/><text x="5" y="14.5">sessions</text><text class="e" x="79.8" y="14.5">[table]</text><text x="3" y="33">...</text><text x="3" y="51">&lt; 1</text><text class="e" x="64.7" y="51">0 rows</text></g>
<g id="t-tag" transform="translate(250.3 2280.4)"><rect class="h" width="79.6" height="21"/><rect class="b" y="21" width="79.6" height="34"/><path class="d" d="M0 38H79.6M20 38V55M58.4 38V55"/><text x="5" y="14.5">tag</text><text class="e" x="74.6" y="14.5">[table]</text><text x="3" y="33">...</text><text x="3" y="51">&lt; 2</text><text class="e" x="54.4" y="51">0 rows</text><text class="e" x="76.6" y="51">3 &gt;</text></g>
<g id="t-task_adhoc" transform="translate(241.1 2356.5)"><rect class="h" width="98.5" height="21"/><rect class="b" y="21" width="98.5" height="34"/><path class="d" d="M0 38H98.5M34.9 38V55M80.2 38V55"/><text x="5" y="14.5">task_adhoc</text><text class="e" x="93.5" y="14.5">[table]</text><text x="3" y="33">...</text><text x="3" y="51">&lt; 1</text><text class="e" x="76.2" y="51">0 rows</text></g>
<g id="t-tool_dataprivacy_request" transform="translate(207.3 2432.6)"><rect class="h" width="165.6" height="21"/><rect class="b" y="21" width="165.6" height="34"/><path class="d" d="M0 38H165.6M68.7 38V55M130 38V55"/><text x="5" y="14.5">tool_dataprivacy_request</text><text class="e" x="160.6" y="14.5">[table]</text><text x="3" y="33">...</text><text x="3" y="51">&lt; 4</text><text class="e" x="126" y="51">0 rows</text></g>
<g id="t-upgrade_log" transform="translate(237.7 2575.6)"><rect class="h" width="104.2" height="21"/><rect class="b" y="21" width="104.2" height="34"/><path class="d" d="M0 38H104.2M37.2 38V55M83.6 38V55"/><text x="5" y="14.5">upgrade_log</text><text class="e" x="99.2" y="14.5">[table]</text><text x="3" y="33">...</text><text x="3" y="51">&lt; 1</text><text class="e" x="79.6" y="51">0 rows</text></g>
<g id="t-user_devices" transform="translate(236.5 2651.7)"><rect class="h" width="107.1" height="21"/><rect class="b" y="21" width="107.1" height="34"/><path class="d" d="M0 38H107.1M38.4 38V55M79.7 38V55"/><text x="5" y="14.5">user_devices</text><text class="e" x="102.1" y="14.5">[table]</text><text x="3" y="33">...</text><text x="3" y="51">&lt; 1</text><text class="e" x="75.7" y="51">0 rows</text><text class="e" x="104.1" y="51">1 &gt;</text></g>
<g id="t-user_enrolments" transform="translate(227.4 2727.4)"><rect class="h" width="124.3" height="21"/><rect class="b" y="21" width="124.3" height="34"/><path class="d" d="M0 38H124.3M47.5 38V55M98.5 38V55"/><text x="5" y="14.5">user_enrolments</text><text class="e" x="119.3" y="14.5">[table]</text><text x="3" y="33">...</text><text x="3" y="51">&lt; 3</text><text class="e" x="94.5" y="51">0 rows</text></g>
<g id="t-user_info_data" transform="translate(232.5 2803.6)"><rect class="h" width="115.2" height="21"/><rect class="b" y="21" width="115.2" height="34"/><path class="d" d="M0 38H115.2M43.5 38V55M92.8 38V55"/><text x="5" y="14.5">user_info_data</text><text class="e" x="110.2" y="14.5">[table]</text><text x="3" y="33">...</text><text x="3" y="51">&lt; 1</text><text class="e" x="88.8" y="51">0 rows</text></g>
<g id="t-analytics_prediction_actions" transform="translate(199.9 2879.7)"><rect class="h" width="179.8" height="21"/><rect class="b" y="21" width="179.8" height="34"/><path class="d" d="M0 38H179.8M75 38V55M139.7 38V55"/><text x="5" y="14.5">analytics_prediction_actions</text><text class="e" x="174.8" y="14.5">[table]</text><text x="3" y="33">...</text><text x="3" y="51">&lt; 2</text><text class="e" x="135.7" y="51">0 rows</text></g>
<g id="t-assign_overrides" transform="translate(226.8 2955.3)"><rect class="h" width="126" height="21"/><rect class="b" y="21" width="126" height="34"/><path class="d" d="M0 38H126M48.1 38V55M100.2 38V55"/><text x="5" y="14.5">assign_overrides</text><text class="e" x="121" y="14.5">[table]</text><text x="3" y="33">...</text><text x="3" y="51">&lt; 3</text><text class="e" x="96.2" y="51">0 rows</text></g>
<g id="t-assign_user_flags" transform="translate(224.5 3031.4)"><rect class="h" width="131.2" height="21"/><rect class="b" y="21" width="131.2" height="34"/><path class="d" d="M0 38H131.2M51.5 38V55M104.8 38V55"/><text x="5" y="14.5">assign_user_flags</text><text class="e" x="126.2" y="14.5">[table]</text><text x="3" y="33">...</text><text x="3" y="51">&lt; 2</text><text class="e" x="100.8" y="51">0 rows</text></g>
<g id="t-assign_user_mapping" transform="translate(214.8 3107.5)"><rect class="h" width="150" height="21"/><rect class="b" y="21" width="150" height="34"/><path class="d" d="M0 38H150M60.1 38V55M118.5 38V55"/><text x="5" y="14.5">assign_user_mapping</text><text class="e" x="145" y="14.5">[table]</text><text x="3" y="33">...</text><text x="3" y="51">&lt; 2</text><text class="e" x="114.5" y="51">0 rows</text></g>
<g id="t-assignfeedback_editpdf_quick" transform="translate(194.7 3183.6)"><rect class="h" width="190.2" height="21"/><rect class="b" y="21" width="190.2" height="34"/><path class="d" d="M0 38H190.2M80.2 38V55M148.3 38V55"/><text x="5" y="14.5">assignfeedback_editpdf_quick</text><text class="e" x="185.2" y="14.5">[table]</text><text x="3" y="33">...</text><text x="3" y="51">&lt; 1</text><text class="e" x="144.3" y="51">0 rows</text></g>
<g id="t-auth_oauth2_linked_login" transform="translate(205.6 3259.7)"><rect class="h" width="168.4" height="21"/><rect class="b" y="21" width="168.4" height="34"/><path class="d" d="M0 38H168.4M69.3 38V55M131.7 38V55"/><text x="5" y="14.5">auth_oauth2_linked_login</text><text class="e" x="163.4" y="14.5">[table]</text><text x="3" y="33">...</text><text x="3" y="51">&lt; 3</text><text class="e" x="127.7" y="51">0 rows</text></g>
<g id="t-backup_controllers" transform="translate(222.8 3335.3)"><rect class="h" width="135.2" height="21"/><rect class="b" y="21" width="135.2" height="34"/><path class="d" d="M0 38H135.2M47.5 38V55M100.2 38V55"/><text x="5" y="14.5">backup_controllers</text><text class="e" x="130.2" y="14.5">[table]</text><text x="3" y="33">...</text><text x="3" y="51">&lt; 1</text><text class="e" x="96.2" y="51">0 rows</text><text class="e" x="132.2" y="51">1 &gt;</text></g>
<g id="t-rating" transform="translate(254.9 3411.4)"><rect class="h" width="71" height="21"/><rect class="b" y="21" width="71" height="34"/><path class="d" d="M0 38H71M21.1 38V55M59 38V55"/><text x="5" y="14.5">rating</text><text class="e" x="66" y="14.5">[table]</text><text x="3" y="33">...</text><text x="3" y="51">&lt; 2</text><text class="e" x="55" y="51">0 rows</text></g>
<g id="t-user_lastaccess" transform="translate(229.7 3487.5)"><rect class="h" width="121.4" height="21"/><rect class="b" y="21" width="121.4" height="34"/><path class="d" d="M0 38H121.4M46.3 38V55M96.8 38V55"/><text x="5" y="14.5">user_lastaccess</text><text class="e" x="116.4" y="14.5">[table]</text><text x="3" y="33">...</text><text x="3" y="51">&lt; 1</text><text class="e" x="92.8" y="51">0 rows</text></g>
<g id="t-user_password_history" transform="translate(211.9 3563.3)"><rect class="h" width="155.8" height="21"/><rect class="b" y="21" width="155.8" height="34"/><path class="d" d="M0 38H155.8M63 38V55M121.4 38V55"/><text x="5" y="14.5">user_password_history</text><text class="e" x="150.8" y="14.5">[table]</text><text x="3" y="33">...</text><text x="3" y="51">&lt; 1</text><text class="e" x="117.4" y="51">0 rows</text></g>
<g id="t-user_password_resets" transform="translate(214.2 3639.4)"><rect class="h" width="152.9" height="21"/><rect class="b" y="21" width="152.9" height="34"/><path class="d" d="M0 38H152.9M61.8 38V55M119.7 38V55"/><text x="5" y="14.5">user_password_resets</text><text class="e" x="147.9" y="14.5">[table]</text><text x="3" y="33">...</text><text x="3" y="51">&lt; 1</text><text class="e" x="115.7" y="51">0 rows</text></g>
<g id="t-user_preferences" transform="translate(226.2 3755.7)"><rect class="h" width="127.8" height="21"/><rect class="b" y="21" width="127.8" height="34"/><path class="d" d="M0 38H127.8M48.7 38V55M100.8 38V55"/><text x="5" y="14.5">user_preferences</text><text class="e" x="122.8" y="14.5">[table]</text><text x="3" y="33">...</text><text x="3" y="51">&lt; 1</text><text class="e" x="96.8" y="51">0 rows</text></g>
<g id="t-tool_policy_versions" transform="translate(218.8 3871.6)"><rect class="h" width="142" height="21"/><rect class="b" y="21" width="142" height="34"/><path class="d" d="M0 38H142M51.5 38V55M105.4 38V55"/><text x="5" y="14.5">tool_policy_versions</text><text class="e" x="137" y="14.5">[table]</text><text x="3" y="33">...</text><text x="3" y="51">&lt; 2</text><text class="e" x="101.4" y="51">0 rows</text><text class="e" x="139" y="51">2 &gt;</text></g>
<g id="t-user_private_key" transform="translate(226.8 3947.7)"><rect class="h" width="126" height="21"/><rect class="b" y="21" width="126" height="34"/><path class="d" d="M0 38H126M48.1 38V55M100.2 38V55"/><text x="5" y="14.5">user_private_key</text><text class="e" x="121" y="14.5">[table]</text><text x="3" y="33">...</text><text x="3" y="51">&lt; 1</text><text class="e" x="96.2" y="51">0 rows</text></g>
<g id="t-badge_backpack" transform="translate(226.8 4051.4)"><rect class="h" width="126" height="21"/><rect class="b" y="21" width="126" height="34"/><path class="d" d="M0 38H126M43.5 38V55M93.4 38V55"/><text x="5" y="14.5">badge_backpack</text><text class="e" x="121" y="14.5">[table]</text><text x="3" y="33">...</text><text x="3" y="51">&lt; 1</text><text class="e" x="89.4" y="51">0 rows</text><text class="e" x="123" y="51">1 &gt;</text></g>
<g id="t-block_community" transform="translate(227.4 4127.5)"><rect class="h" width="126.6" height="21"/><rect class="b" y="21" width="126.6" height="34"/><path class="d" d="M0 38H126.6M48.6 38V55M100.2 38V55"/><text x="5" y="14.5">block_community</text><text class="e" x="121.6" y="14.5">[table]</text><text x="3" y="33">...</text><text x="3" y="51">&lt; 1</text><text class="e" x="96.2" y="51">0 rows</text></g>
<g id="t-block_recent_activity" transform="translate(218.2 4203.6)"><rect class="h" width="144.9" height="21"/><rect class="b" y="21" width="144.9" height="34"/><path class="d" d="M0 38H144.9M57.8 38V55M113.4 38V55"/><text x="5" y="14.5">block_recent_activity</text><text class="e" x="139.9" y="14.5">[table]</text><text x="3" y="33">...</text><text x="3" y="51">&lt; 1</text><text class="e" x="109.4" y="51">0 rows</text></g>
<g id="t-blog_external" transform="translate(236 4279.7)"><rect class="h" width="108.8" height="21"/><rect class="b" y="21" width="108.8" height="34"/><path class="d" d="M0 38H108.8M40 38V55M87 38V55"/><text x="5" y="14.5">blog_external</text><text class="e" x="103.8" y="14.5">[table]</text><text x="3" y="33">...</text><text x="3" y="51">&lt; 1</text><text class="e" x="83" y="51">0 rows</text></g>
<g id="t-cohort_members" transform="translate(228 4355.4)"><rect class="h" width="124.8" height="21"/><rect class="b" y="21" width="124.8" height="34"/><path class="d" d="M0 38H124.8M48 38V55M99 38V55"/><text x="5" y="14.5">cohort_members</text><text class="e" x="119.8" y="14.5">[table]</text><text x="3" y="33">...</text><text x="3" y="51">&lt; 2</text><text class="e" x="95" y="51">0 rows</text></g>
<g id="t-comments" transform="translate(244 4431.5)"><rect class="h" width="92.8" height="21"/><rect class="b" y="21" width="92.8" height="34"/><path class="d" d="M0 38H92.8M32 38V55M75 38V55"/><text x="5" y="14.5">comments</text><text class="e" x="87.8" y="14.5">[table]</text><text x="3" y="33">...</text><text x="3" y="51">&lt; 1</text><text class="e" x="71" y="51">0 rows</text></g>
<g id="t-config_log" transform="translate(244 4507.6)"><rect class="h" width="92.8" height="21"/><rect class="b" y="21" width="92.8" height="34"/><path class="d" d="M0 38H92.8M32 38V55M75 38V55"/><text x="5" y="14.5">config_log</text><text class="e" x="87.8" y="14.5">[table]</text><text x="3" y="33">...</text><text x="3" y="51">&lt; 1</text><text class="e" x="71" y="51">0 rows</text></g>
<g id="t-enrol_lti_users" transform="translate(233.1 4583.7)"><rect class="h" width="114" height="21"/><rect class="b" y="21" width="114" height="34"/><path class="d" d="M0 38H114M41.8 38V55M90.5 38V55"/><text x="5" y="14.5">enrol_lti_users</text><text class="e" x="109" y="14.5">[table]</text><text x="3" y="33">...</text><text x="3" y="51">&lt; 2</text><text class="e" x="86.5" y="51">0 rows</text></g>
<g id="t-events_queue" transform="translate(233.7 4659.4)"><rect class="h" width="112.2" height="21"/><rect class="b" y="21" width="112.2" height="34"/><path class="d" d="M0 38H112.2M36.6 38V55M83 38V55"/><text x="5" y="14.5">events_queue</text><text class="e" x="107.2" y="14.5">[table]</text><text x="3" y="33">...</text><text x="3" y="51">&lt; 1</text><text class="e" x="79" y="51">0 rows</text><text class="e" x="109.2" y="51">1 &gt;</text></g>
<g id="t-external_services_users" transform="translate(210.2 4735.5)"><rect class="h" width="160.9" height="21"/><rect class="b" y="21" width="160.9" height="34"/><path class="d" d="M0 38H160.9M65.8 38V55M126 38V55"/><text x="5" y="14.5">external_services_users</text><text class="e" x="155.9" y="14.5">[table]</text><text x="3" y="33">...</text><text x="3" y="51">&lt; 2</text><text class="e" x="122" y="51">0 rows</text></g>
<g id="t-external_tokens" transform="translate(229.7 4811.6)"><rect class="h" width="120.2" height="21"/><rect class="b" y="21" width="120.2" height="34"/><path class="d" d="M0 38H120.2M45.2 38V55M95.6 38V55"/><text x="5" y="14.5">external_tokens</text><text class="e" x="115.2" y="14.5">[table]</text><text x="3" y="33">...</text><text x="3" y="51">&lt; 4</text><text class="e" x="91.6" y="51">0 rows</text></g>
<g id="t-favourite" transform="translate(248 4887.7)"><rect class="h" width="84.8" height="21"/><rect class="b" y="21" width="84.8" height="34"/><path class="d" d="M0 38H84.8M28 38V55M68.7 38V55"/><text x="5" y="14.5">favourite</text><text class="e" x="79.8" y="14.5">[table]</text><text x="3" y="33">...</text><text x="3" y="51">&lt; 2</text><text class="e" x="64.7" y="51">0 rows</text></g>
<g id="t-files" transform="translate(250.3 4963.8)"><rect class="h" width="79.6" height="21"/><rect class="b" y="21" width="79.6" height="34"/><path class="d" d="M0 38H79.6M20 38V55M58.4 38V55"/><text x="5" y="14.5">files</text><text class="e" x="74.6" y="14.5">[table]</text><text x="3" y="33">...</text><text x="3" y="51">&lt; 3</text><text class="e" x="54.4" y="51">0 rows</text><text class="e" x="76.6" y="51">4 &gt;</text></g>
<g id="t-forum_digests" transform="translate(233.7 5039.4)"><rect class="h" width="112.2" height="21"/><rect class="b" y="21" width="112.2" height="34"/><path class="d" d="M0 38H112.2M41.2 38V55M88.7 38V55"/><text x="5" y="14.5">forum_digests</text><text class="e" x="107.2" y="14.5">[table]</text><text x="3" y="33">...</text><text x="3" y="51">&lt; 2</text><text class="e" x="84.7" y="51">0 rows</text></g>
<g id="t-forum_discussion_subs" transform="translate(211.9 5115.6)"><rect class="h" width="156.9" height="21"/><rect class="b" y="21" width="156.9" height="34"/><path class="d" d="M0 38H156.9M64.1 38V55M123.1 38V55"/><text x="5" y="14.5">forum_discussion_subs</text><text class="e" x="151.9" y="14.5">[table]</text><text x="3" y="33">...</text><text x="3" y="51">&lt; 3</text><text class="e" x="119.1" y="51">0 rows</text></g>
<g id="t-grade_grades" transform="translate(234.8 5243.6)"><rect class="h" width="110" height="21"/><rect class="b" y="21" width="110" height="34"/><path class="d" d="M0 38H110M35.5 38V55M81.4 38V55"/><text x="5" y="14.5">grade_grades</text><text class="e" x="105" y="14.5">[table]</text><text x="3" y="33">...</text><text x="3" y="51">&lt; 4</text><text class="e" x="77.4" y="51">0 rows</text><text class="e" x="107" y="51">1 &gt;</text></g>
<g id="t-grade_import_newitem" transform="translate(212.5 5347.3)"><rect class="h" width="154.6" height="21"/><rect class="b" y="21" width="154.6" height="34"/><path class="d" d="M0 38H154.6M57.8 38V55M115.1 38V55"/><text x="5" y="14.5">grade_import_newitem</text><text class="e" x="149.6" y="14.5">[table]</text><text x="3" y="33">...</text><text x="3" y="51">&lt; 1</text><text class="e" x="111.1" y="51">0 rows</text><text class="e" x="151.6" y="51">1 &gt;</text></g>
<g id="t-grading_definitions" transform="translate(222.8 5451.5)"><rect class="h" width="135.2" height="21"/><rect class="b" y="21" width="135.2" height="34"/><path class="d" d="M0 38H135.2M47.5 38V55M100.2 38V55"/><text x="5" y="14.5">grading_definitions</text><text class="e" x="130.2" y="14.5">[table]</text><text x="3" y="33">...</text><text x="3" y="51">&lt; 3</text><text class="e" x="96.2" y="51">0 rows</text><text class="e" x="132.2" y="51">4 &gt;</text></g>
<g id="t-groups_members" transform="translate(226.2 5527.6)"><rect class="h" width="127.8" height="21"/><rect class="b" y="21" width="127.8" height="34"/><path class="d" d="M0 38H127.8M48.7 38V55M100.8 38V55"/><text x="5" y="14.5">groups_members</text><text class="e" x="122.8" y="14.5">[table]</text><text x="3" y="33">...</text><text x="3" y="51">&lt; 2</text><text class="e" x="96.8" y="51">0 rows</text></g>
<g id="t-lesson_overrides" transform="translate(226.8 5603.7)"><rect class="h" width="126" height="21"/><rect class="b" y="21" width="126" height="34"/><path class="d" d="M0 38H126M48.1 38V55M100.2 38V55"/><text x="5" y="14.5">lesson_overrides</text><text class="e" x="121" y="14.5">[table]</text><text x="3" y="33">...</text><text x="3" y="51">&lt; 3</text><text class="e" x="96.2" y="51">0 rows</text></g>
<g id="t-log" transform="translate(254.9 5679.8)"><rect class="h" width="71" height="21"/><rect class="b" y="21" width="71" height="34"/><path class="d" d="M0 38H71M21.1 38V55M59 38V55"/><text x="5" y="14.5">log</text><text class="e" x="66" y="14.5">[table]</text><text x="3" y="33">...</text><text x="3" y="51">&lt; 1</text><text class="e" x="55" y="51">0 rows</text></g>
<g id="t-message_contact_requests" transform="translate(201.6 5755.5)"><rect class="h" width="177" height="21"/><rect class="b" y="21" width="177" height="34"/><path class="d" d="M0 38H177M74.4 38V55M138.6 38V55"/><text x="5" y="14.5">message_contact_requests</text><text class="e" x="172" y="14.5">[table]</text><text x="3" y="33">...</text><text x="3" y="51">&lt; 2</text><text class="e" x="134.6" y="51">0 rows</text></g>
<g id="t-message_contacts" transform="translate(222.8 5831.4)"><rect class="h" width="134" height="21"/><rect class="b" y="21" width="134" height="34"/><path class="d" d="M0 38H134M52.1 38V55M105.9 38V55"/><text x="5" y="14.5">message_contacts</text><text class="e" x="129" y="14.5">[table]</text><text x="3" y="33">...</text><text x="3" y="51">&lt; 2</text><text class="e" x="101.9" y="51">0 rows</text></g>
<g id="t-message_conversation_members" transform="translate(186.1 5907.7)"><rect class="h" width="207.9" height="21"/><rect class="b" y="21" width="207.9" height="34"/><path class="d" d="M0 38H207.9M88.8 38V55M161 38V55"/><text x="5" y="14.5">message_conversation_members</text><text class="e" x="202.9" y="14.5">[table]</text><text x="3" y="33">...</text><text x="3" y="51">&lt; 2</text><text class="e" x="157" y="51">0 rows</text></g>
<g id="t-message_read" transform="translate(232.5 5983.5)"><rect class="h" width="115.2" height="21"/><rect class="b" y="21" width="115.2" height="34"/><path class="d" d="M0 38H115.2M43.5 38V55M92.8 38V55"/><text x="5" y="14.5">message_read</text><text class="e" x="110.2" y="14.5">[table]</text><text x="3" y="33">...</text><text x="3" y="51">&lt; 1</text><text class="e" x="88.8" y="51">0 rows</text></g>
<g id="t-messages" transform="translate(244 6087.4)"><rect class="h" width="92.8" height="21"/><rect class="b" y="21" width="92.8" height="34"/><path class="d" d="M0 38H92.8M26.3 38V55M67.6 38V55"/><text x="5" y="14.5">messages</text><text class="e" x="87.8" y="14.5">[table]</text><text x="3" y="33">...</text><text x="3" y="51">&lt; 2</text><text class="e" x="63.6" y="51">0 rows</text><text class="e" x="89.8" y="51">1 &gt;</text></g>
<g id="t-message_users_blocked" transform="translate(207.3 6163.7)"><rect class="h" width="164.4" height="21"/><rect class="b" y="21" width="164.4" height="34"/><path class="d" d="M0 38H164.4M67.6 38V55M128.9 38V55"/><text x="5" y="14.5">message_users_blocked</text><text class="e" x="159.4" y="14.5">[table]</text><text x="3" y="33">...</text><text x="3" y="51">&lt; 2</text><text class="e" x="124.9" y="51">0 rows</text></g>
<g id="t-messageinbound_messagelist" transform="translate(194.7 6239.5)"><rect class="h" width="190.2" height="21"/><rect class="b" y="21" width="190.2" height="34"/><path class="d" d="M0 38H190.2M80.2 38V55M148.3 38V55"/><text x="5" y="14.5">messageinbound_messagelist</text><text class="e" x="185.2" y="14.5">[table]</text><text x="3" y="33">...</text><text x="3" y="51">&lt; 1</text><text class="e" x="144.3" y="51">0 rows</text></g>
<g id="t-mnet_log" transform="translate(245.7 6315.4)"><rect class="h" width="88.2" height="21"/><rect class="b" y="21" width="88.2" height="34"/><path class="d" d="M0 38H88.2M29.2 38V55M71 38V55"/><text x="5" y="14.5">mnet_log</text><text class="e" x="83.2" y="14.5">[table]</text><text x="3" y="33">...</text><text x="3" y="51">&lt; 1</text><text class="e" x="67" y="51">0 rows</text></g>
<g id="t-mnetservice_enrol_enrolments" transform="translate(193.6 6391.7)"><rect class="h" width="193" height="21"/><rect class="b" y="21" width="193" height="34"/><path class="d" d="M0 38H193M82.4 38V55M150 38V55"/><text x="5" y="14.5">mnetservice_enrol_enrolments</text><text class="e" x="188" y="14.5">[table]</text><text x="3" y="33">...</text><text x="3" y="51">&lt; 2</text><text class="e" x="146" y="51">0 rows</text></g>
<g id="t-my_pages" transform="translate(244 6467.5)"><rect class="h" width="92.8" height="21"/><rect class="b" y="21" width="92.8" height="34"/><path class="d" d="M0 38H92.8M32 38V55M75 38V55"/><text x="5" y="14.5">my_pages</text><text class="e" x="87.8" y="14.5">[table]</text><text x="3" y="33">...</text><text x="3" y="51">&lt; 1</text><text class="e" x="71" y="51">0 rows</text></g>

<g id="t-workshopform_comments" transform="translate(475.4 8.2)"><rect class="h" width="168.9" height="21"/><rect class="b" y="21" width="168.9" height="34"/><path class="d" d="M0 38H168.9M68.6 38V55M131.6 38V55"/><text x="5" y="14.5">workshopform_comments</text><text class="e" x="163.9" y="14.5">[table]</text><text x="3" y="33">...</text><text x="3" y="51">&lt; 1</text><text class="e" x="127.6" y="51">0 rows</text></g>
<g id="t-workshopform_numerrors" transform="translate(475.4 84.3)"><rect class="h" width="168.9" height="21"/><rect class="b" y="21" width="168.9" height="34"/><path class="d" d="M0 38H168.9M68.6 38V55M131.6 38V55"/><text x="5" y="14.5">workshopform_numerrors</text><text class="e" x="163.9" y="14.5">[table]</text><text x="3" y="33">...</text><text x="3" y="51">&lt; 1</text><text class="e" x="127.6" y="51">0 rows</text></g>
<g id="t-workshopform_numerrors_map" transform="translate(462.8 160.4)"><rect class="h" width="194.7" height="21"/><rect class="b" y="21" width="194.7" height="34"/><path class="d" d="M0 38H194.7M83 38V55M151.7 38V55"/><text x="5" y="14.5">workshopform_numerrors_map</text><text class="e" x="189.7" y="14.5">[table]</text><text x="3" y="33">...</text><text x="3" y="51">&lt; 1</text><text class="e" x="147.7" y="51">0 rows</text></g>
<g id="t-workshopform_rubric" transform="translate(487.4 236.4)"><rect class="h" width="145.5" height="21"/><rect class="b" y="21" width="145.5" height="34"/><path class="d" d="M0 38H145.5M53.3 38V55M108.2 38V55"/><text x="5" y="14.5">workshopform_rubric</text><text class="e" x="140.5" y="14.5">[table]</text><text x="3" y="33">...</text><text x="3" y="51">&lt; 1</text><text class="e" x="104.2" y="51">0 rows</text><text class="e" x="142.5" y="51">1 &gt;</text></g>
<g id="t-workshopallocation_scheduled" transform="translate(463.3 312.5)"><rect class="h" width="192.5" height="21"/><rect class="b" y="21" width="192.5" height="34"/><path class="d" d="M0 38H192.5M81.4 38V55M149.5 38V55"/><text x="5" y="14.5">workshopallocation_scheduled</text><text class="e" x="187.5" y="14.5">[table]</text><text x="3" y="33">...</text><text x="3" y="51">&lt; 1</text><text class="e" x="145.5" y="51">0 rows</text></g>
<g id="t-workshopeval_best_settings" transform="translate(469.6 388.6)"><rect class="h" width="181.6" height="21"/><rect class="b" y="21" width="181.6" height="34"/><path class="d" d="M0 38H181.6M76.2 38V55M141.4 38V55"/><text x="5" y="14.5">workshopeval_best_settings</text><text class="e" x="176.6" y="14.5">[table]</text><text x="3" y="33">...</text><text x="3" y="51">&lt; 1</text><text class="e" x="137.4" y="51">0 rows</text></g>
<g id="t-workshopform_accumulative" transform="translate(469 464.3)"><rect class="h" width="182.2" height="21"/><rect class="b" y="21" width="182.2" height="34"/><path class="d" d="M0 38H182.2M75 38V55M142 38V55"/><text x="5" y="14.5">workshopform_accumulative</text><text class="e" x="177.2" y="14.5">[table]</text><text x="3" y="33">...</text><text x="3" y="51">&lt; 1</text><text class="e" x="138" y="51">0 rows</text></g>
<g id="t-grade_items_history" transform="translate(488.5 714.5)"><rect class="h" width="142.7" height="21"/><rect class="b" y="21" width="142.7" height="34"/><path class="d" d="M0 38H142.7M56.2 38V55M112.9 38V55"/><text x="5" y="14.5">grade_items_history</text><text class="e" x="137.7" y="14.5">[table]</text><text x="3" y="33">...</text><text x="3" y="51">&lt; 6</text><text class="e" x="108.9" y="51">0 rows</text></g>
<g id="t-grade_outcomes_history" transform="translate(478.8 790.6)"><rect class="h" width="163.2" height="21"/><rect class="b" y="21" width="163.2" height="34"/><path class="d" d="M0 38H163.2M67 38V55M128.3 38V55"/><text x="5" y="14.5">grade_outcomes_history</text><text class="e" x="158.2" y="14.5">[table]</text><text x="3" y="33">...</text><text x="3" y="51">&lt; 4</text><text class="e" x="124.3" y="51">0 rows</text></g>
<g id="t-workshop_submissions" transform="translate(482.2 2134.5)"><rect class="h" width="155.3" height="21"/><rect class="b" y="21" width="155.3" height="34"/><path class="d" d="M0 38H155.3M58.5 38V55M115.7 38V55"/><text x="5" y="14.5">workshop_submissions</text><text class="e" x="150.3" y="14.5">[table]</text><text x="3" y="33">...</text><text x="3" y="51">&lt; 3</text><text class="e" x="111.7" y="51">0 rows</text><text class="e" x="152.3" y="51">1 &gt;</text></g>
<g id="t-badge_issued" transform="translate(505.2 2520.4)"><rect class="h" width="110.5" height="21"/><rect class="b" y="21" width="110.5" height="34"/><path class="d" d="M0 38H110.5M35.5 38V55M81.3 38V55"/><text x="5" y="14.5">badge_issued</text><text class="e" x="105.5" y="14.5">[table]</text><text x="3" y="33">...</text><text x="3" y="51">&lt; 2</text><text class="e" x="77.3" y="51">0 rows</text><text class="e" x="107.5" y="51">1 &gt;</text></g>
<g id="t-badge_manual_award" transform="translate(484.5 3695.1)"><rect class="h" width="151.2" height="21"/><rect class="b" y="21" width="151.2" height="34"/><path class="d" d="M0 38H151.2M61.3 38V55M119.2 38V55"/><text x="5" y="14.5">badge_manual_award</text><text class="e" x="146.2" y="14.5">[table]</text><text x="3" y="33">...</text><text x="3" y="51">&lt; 4</text><text class="e" x="115.2" y="51">0 rows</text></g>
<g id="t-tool_policy_acceptances" transform="translate(478.8 3810.5)"><rect class="h" width="162.1" height="21"/><rect class="b" y="21" width="162.1" height="34"/><path class="d" d="M0 38H162.1M65.9 38V55M126.6 38V55"/><text x="5" y="14.5">tool_policy_acceptances</text><text class="e" x="157.1" y="14.5">[table]</text><text x="3" y="33">...</text><text x="3" y="51">&lt; 3</text><text class="e" x="122.6" y="51">0 rows</text></g>
<g id="t-grade_grades_history" transform="translate(485.7 5176.7)"><rect class="h" width="148.9" height="21"/><rect class="b" y="21" width="148.9" height="34"/><path class="d" d="M0 38H148.9M60.1 38V55M117.4 38V55"/><text x="5" y="14.5">grade_grades_history</text><text class="e" x="143.9" y="14.5">[table]</text><text x="3" y="33">...</text><text x="3" y="51">&lt; 6</text><text class="e" x="113.4" y="51">0 rows</text></g>
<g id="t-grade_import_values" transform="translate(487.4 5320.7)"><rect class="h" width="145.5" height="21"/><rect class="b" y="21" width="145.5" height="34"/><path class="d" d="M0 38H145.5M58.4 38V55M114 38V55"/><text x="5" y="14.5">grade_import_values</text><text class="e" x="140.5" y="14.5">[table]</text><text x="3" y="33">...</text><text x="3" y="51">&lt; 3</text><text class="e" x="110" y="51">0 rows</text></g>
<g id="t-grading_instances" transform="translate(493.7 5424.4)"><rect class="h" width="132.3" height="21"/><rect class="b" y="21" width="132.3" height="34"/><path class="d" d="M0 38H132.3M47 38V55M98.5 38V55"/><text x="5" y="14.5">grading_instances</text><text class="e" x="127.3" y="14.5">[table]</text><text x="3" y="33">...</text><text x="3" y="51">&lt; 2</text><text class="e" x="94.5" y="51">0 rows</text><text class="e" x="129.3" y="51">2 &gt;</text></g>
<g id="t-message_user_actions" transform="translate(482.2 6060.3)"><rect class="h" width="155.3" height="21"/><rect class="b" y="21" width="155.3" height="34"/><path class="d" d="M0 38H155.3M62.5 38V55M123.2 38V55"/><text x="5" y="14.5">message_user_actions</text><text class="e" x="150.3" y="14.5">[table]</text><text x="3" y="33">...</text><text x="3" y="51">&lt; 2</text><text class="e" x="119.2" y="51">0 rows</text></g>
<g id="t-workshop_assessments" transform="translate(726.2 1763.6)"><rect class="h" width="159.8" height="21"/><rect class="b" y="21" width="159.8" height="34"/><path class="d" d="M0 38H159.8M60.2 38V55M118.6 38V55"/><text x="5" y="14.5">workshop_assessments</text><text class="e" x="154.8" y="14.5">[table]</text><text x="3" y="33">...</text><text x="3" y="51">&lt; 3</text><text class="e" x="114.6" y="51">0 rows</text><text class="e" x="156.8" y="51">1 &gt;</text></g>
<g id="t-badge_criteria_met" transform="translate(737.7 3258.7)"><rect class="h" width="137.4" height="21"/><rect class="b" y="21" width="137.4" height="34"/><path class="d" d="M0 38H137.4M53.8 38V55M108.2 38V55"/><text x="5" y="14.5">badge_criteria_met</text><text class="e" x="132.4" y="14.5">[table]</text><text x="3" y="33">...</text><text x="3" y="51">&lt; 3</text><text class="e" x="104.2" y="51">0 rows</text></g>

<text x="12.6" y="6552">Generated by SchemaSpy</text>
</svg>
